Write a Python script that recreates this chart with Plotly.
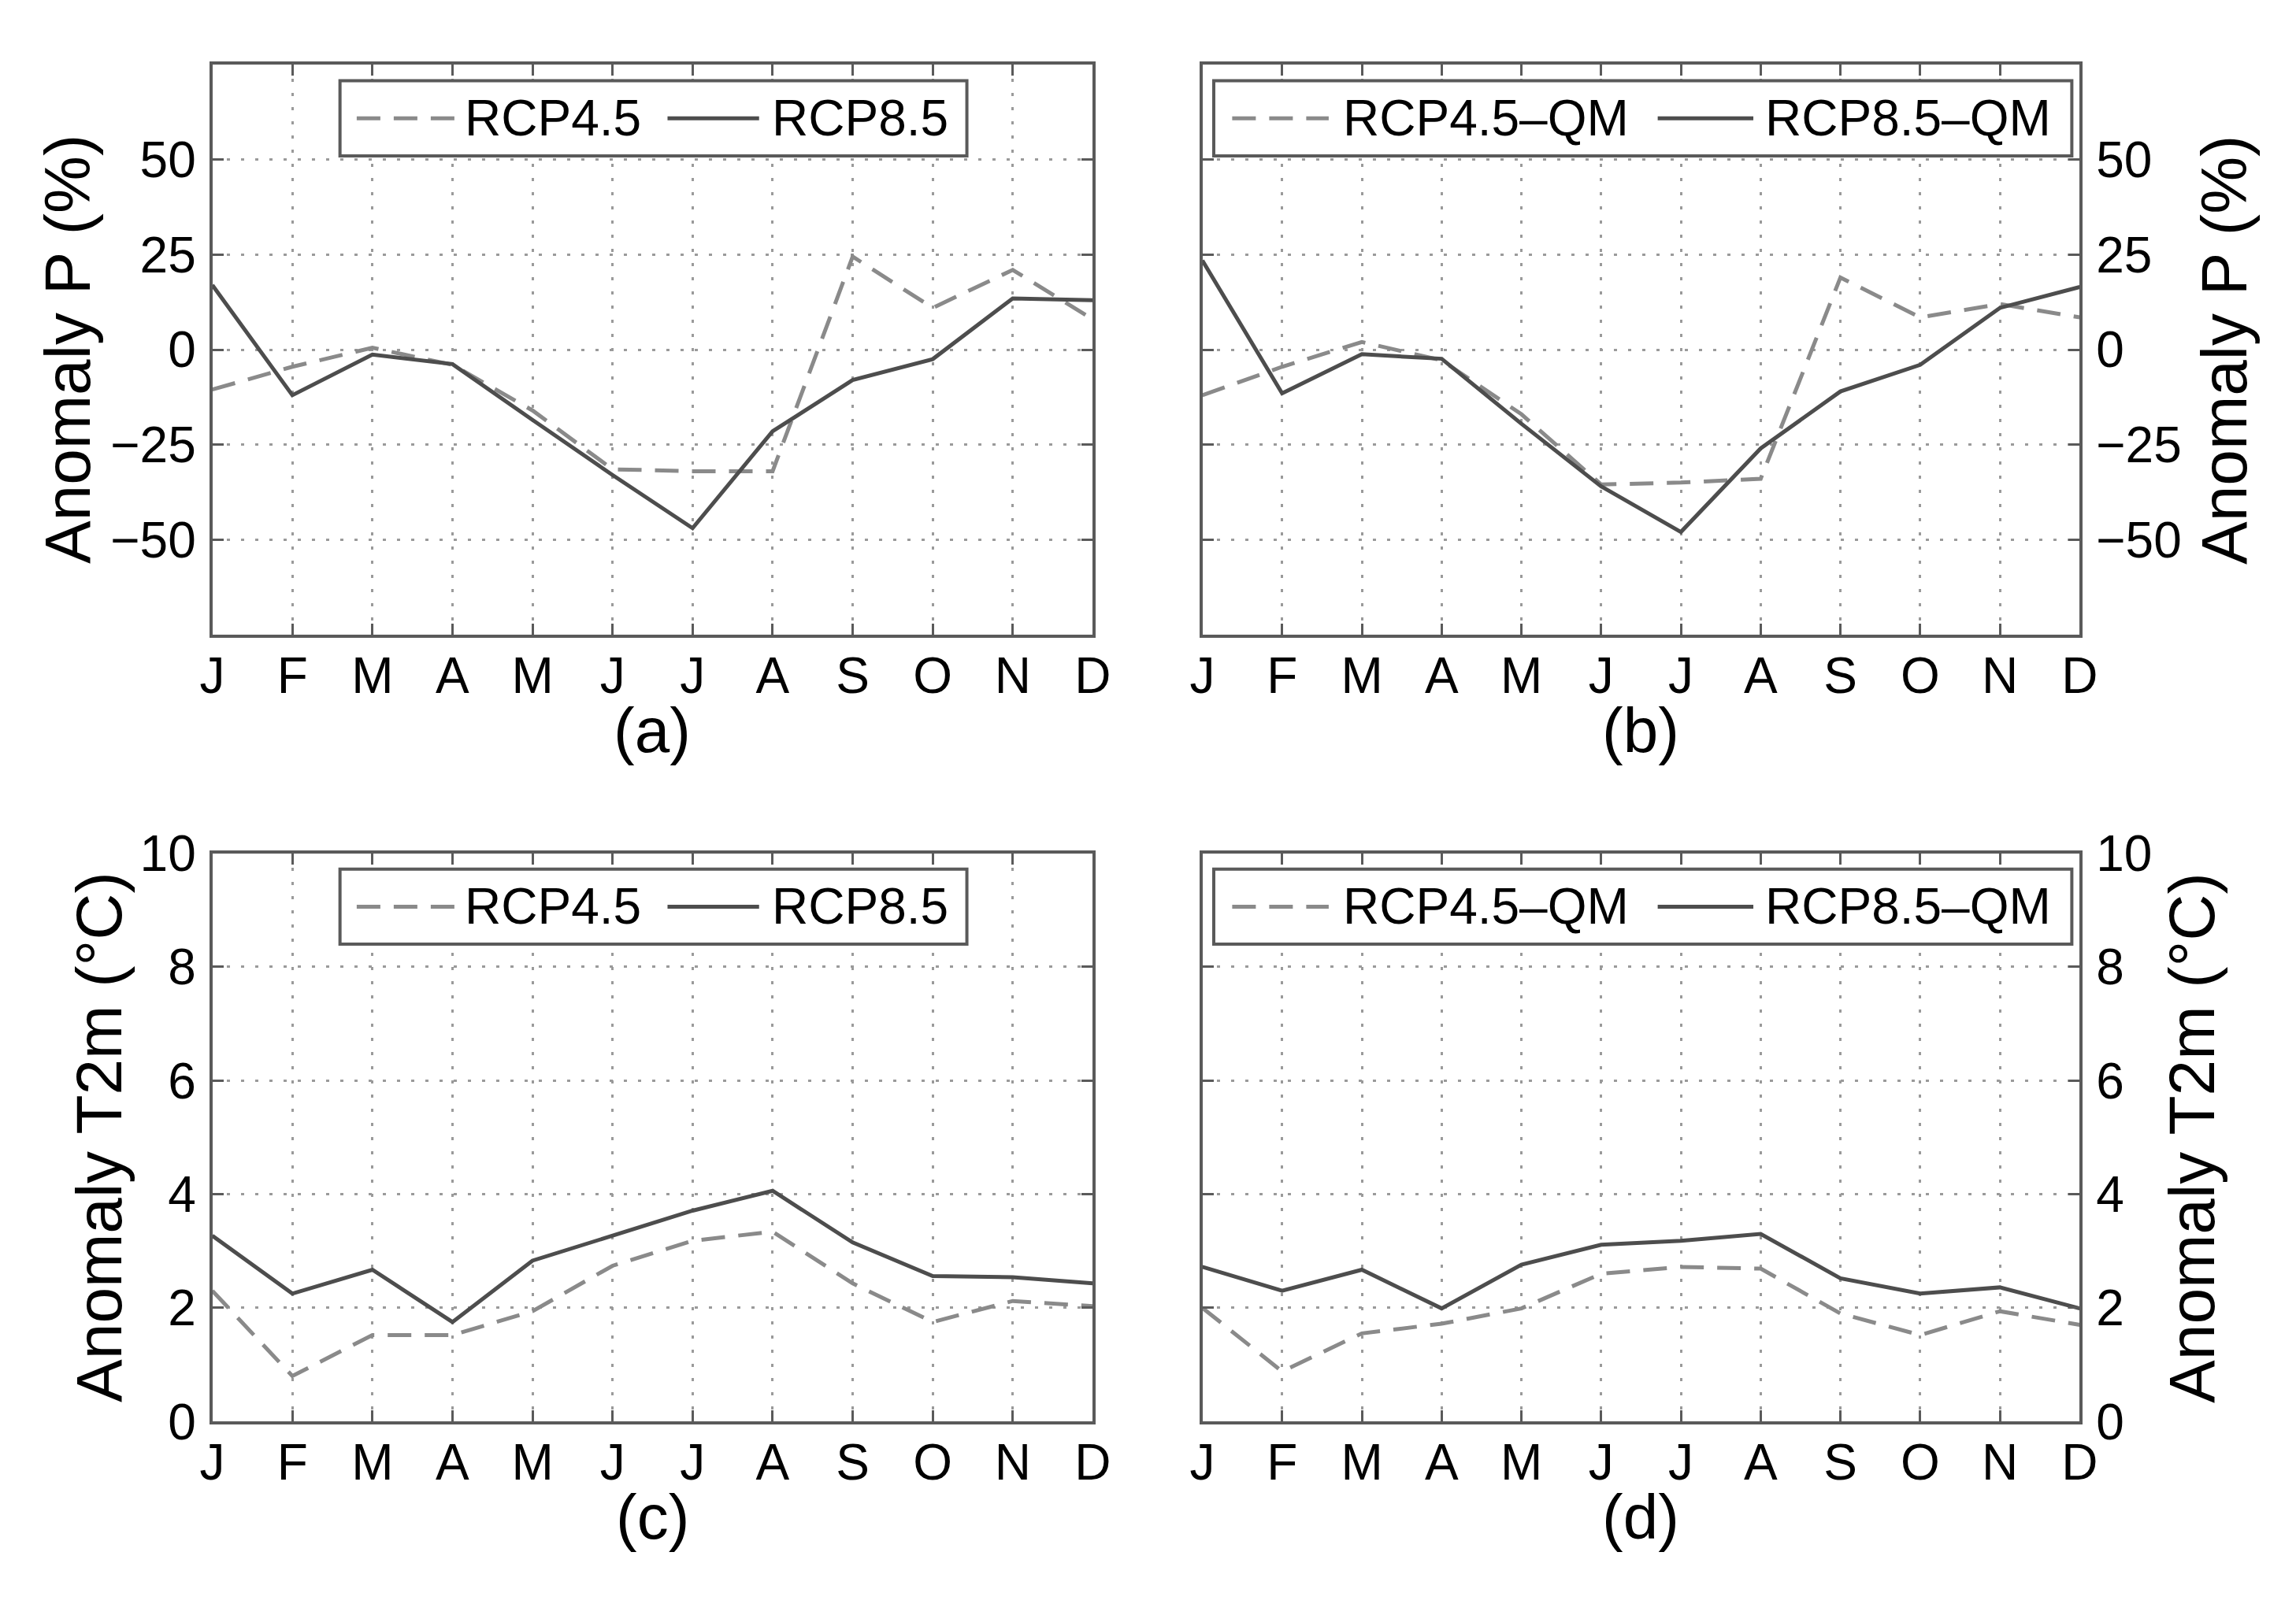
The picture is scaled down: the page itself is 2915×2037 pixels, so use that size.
import plotly.graph_objects as go

months = ["J", "F", "M", "A", "M", "J", "J", "A", "S", "O", "N", "D"]
month_pos = list(range(1, 13))

# (a) precipitation anomaly (%)
a_rcp45 = [-10.5, -4.5, 0.5, -4.0, -16.0, -31.5, -32.0, -32.0, 24.5, 11.0, 21.0, 8.0]
a_rcp85 = [17.0, -12.0, -1.3, -3.8, -18.5, -33.0, -47.0, -21.5, -8.0, -2.5, 13.5, 13.0]
# (b) precipitation anomaly, QM corrected (%)
b_rcp45 = [-12.0, -4.5, 2.0, -2.8, -17.0, -35.5, -35.0, -34.0, 19.0, 8.5, 12.0, 8.5]
b_rcp85 = [23.5, -11.5, -1.2, -2.4, -19.5, -36.0, -48.0, -26.0, -11.0, -4.0, 11.0, 16.5]
# (c) T2m anomaly (°C)
c_rcp45 = [2.3, 0.8, 1.52, 1.52, 1.94, 2.74, 3.18, 3.34, 2.43, 1.75, 2.12, 2.03]
c_rcp85 = [3.27, 2.25, 2.67, 1.75, 2.83, 3.27, 3.71, 4.06, 3.15, 2.56, 2.54, 2.43]
# (d) T2m anomaly, QM corrected (°C)
d_rcp45 = [2.0, 0.88, 1.55, 1.72, 1.99, 2.6, 2.72, 2.69, 1.9, 1.52, 1.94, 1.7]
d_rcp85 = [2.72, 2.3, 2.67, 1.99, 2.76, 3.11, 3.18, 3.3, 2.52, 2.25, 2.36, 1.99]

p_ticks = [-50, -25, 0, 25, 50]
t_ticks = [0, 2, 4, 6, 8, 10]

W, H = 2915, 2037
FONT = "Liberation Sans, Arial, sans-serif"
DASHED_COL = "#8a8a8a"
SOLID_COL = "#4d4d4d"
FRAME_COL = "#5a5a5a"
DASH = "30px,17px"

def px(v, total):
    return v / total

xdom_left = [px(257, W), px(1390, W)]
xdom_right = [px(1531, W), px(2660, W)]
ydom_top = [1 - px(798, H), 1 - px(48, H)]
ydom_bot = [1 - px(1834, H), 1 - px(1086, H)]

panels = [
    dict(xa="x", ya="y", d45=a_rcp45, d85=a_rcp85, n45="RCP4.5", n85="RCP8.5",
         xdom=xdom_left, ydom=ydom_top, side="left", rng=[-75, 75], ticks=p_ticks, label="(a)", bottom=798),
    dict(xa="x2", ya="y2", d45=b_rcp45, d85=b_rcp85, n45="RCP4.5–QM", n85="RCP8.5–QM",
         xdom=xdom_right, ydom=ydom_top, side="right", rng=[-75, 75], ticks=p_ticks, label="(b)", bottom=798),
    dict(xa="x3", ya="y3", d45=c_rcp45, d85=c_rcp85, n45="RCP4.5", n85="RCP8.5",
         xdom=xdom_left, ydom=ydom_bot, side="left", rng=[0, 10], ticks=t_ticks, label="(c)", bottom=1834),
    dict(xa="x4", ya="y4", d45=d_rcp45, d85=d_rcp85, n45="RCP4.5–QM", n85="RCP8.5–QM",
         xdom=xdom_right, ydom=ydom_bot, side="right", rng=[0, 10], ticks=t_ticks, label="(d)", bottom=1834),
]

fig = go.Figure()
shapes = []
annotations = []
layout = {}

for i, p in enumerate(panels):
    fig.add_trace(go.Scatter(x=month_pos, y=p["d45"], mode="lines", name=p["n45"],
                             xaxis=p["xa"], yaxis=p["ya"], showlegend=False,
                             line=dict(color=DASHED_COL, width=5, dash=DASH)))
    fig.add_trace(go.Scatter(x=month_pos, y=p["d85"], mode="lines", name=p["n85"],
                             xaxis=p["xa"], yaxis=p["ya"], showlegend=False,
                             line=dict(color=SOLID_COL, width=5)))
    suffix = "" if i == 0 else str(i + 1)
    common = dict(showline=True, mirror="all", linecolor=FRAME_COL, linewidth=4,
                  ticks="inside", ticklen=14, tickwidth=3, tickcolor=FRAME_COL,
                  showgrid=True, gridcolor="#9a9a9a", gridwidth=3, griddash="4px,14px",
                  zeroline=False, tickfont=dict(family=FONT, size=64, color="black"))
    layout["xaxis" + suffix] = dict(common, domain=p["xdom"], anchor=p["ya"], range=[1, 12],
                                   tickvals=month_pos, ticktext=months, ticklabelstandoff=-7)
    layout["yaxis" + suffix] = dict(common, domain=p["ydom"], anchor=p["xa"], range=p["rng"],
                                   tickvals=p["ticks"], side=p["side"], ticklabelstandoff=4)

    # in-axes legend box (drawn in axis-domain coordinates)
    xr = p["xa"] + " domain"
    yr = p["ya"] + " domain"
    if p["side"] == "left":
        bx0, bx1 = 0.145, 0.857
        l1, t1, l2, t2 = (0.164, 0.275), 0.285, (0.517, 0.621), 0.634
    else:
        bx0, bx1 = 0.013, 0.991
        l1, t1, l2, t2 = (0.034, 0.144), 0.158, (0.519, 0.628), 0.640
    by0, by1 = 0.84, 0.972
    yc = (by0 + by1) / 2
    shapes.append(dict(type="rect", xref=xr, yref=yr, x0=bx0, x1=bx1, y0=by0, y1=by1,
                       fillcolor="white", line=dict(color=FRAME_COL, width=4), layer="above"))
    shapes.append(dict(type="line", xref=xr, yref=yr, x0=l1[0], x1=l1[1], y0=yc, y1=yc,
                       line=dict(color=DASHED_COL, width=5, dash=DASH), layer="above"))
    shapes.append(dict(type="line", xref=xr, yref=yr, x0=l2[0], x1=l2[1], y0=yc, y1=yc,
                       line=dict(color=SOLID_COL, width=5), layer="above"))
    annotations.append(dict(xref=xr, yref=yr, x=t1, y=yc, text=p["n45"], showarrow=False,
                            xanchor="left", yanchor="middle",
                            font=dict(family=FONT, size=64, color="black")))
    annotations.append(dict(xref=xr, yref=yr, x=t2, y=yc, text=p["n85"], showarrow=False,
                            xanchor="left", yanchor="middle",
                            font=dict(family=FONT, size=64, color="black")))
    # panel label
    annotations.append(dict(xref=xr, yref="paper", x=0.5, y=1 - (p["bottom"] + 126) / H,
                            text=p["label"], showarrow=False, xanchor="center", yanchor="middle",
                            font=dict(family=FONT, size=80, color="black")))

# axis titles
titles = [
    ("Anomaly P (%)", 70, 423),
    ("Anomaly P (%)", 2845, 423),
    ("Anomaly T2m (°C)", 111, 1460),
    ("Anomaly T2m (°C)", 2804, 1460),
]
for txt, cx, cy in titles:
    annotations.append(dict(xref="paper", yref="paper", x=cx / W, y=1 - cy / H, text=txt,
                            showarrow=False, textangle=-90, xanchor="center", yanchor="middle",
                            font=dict(family=FONT, size=82, color="black")))

fig.update_layout(width=W, height=H, margin=dict(l=0, r=0, t=0, b=0),
                  paper_bgcolor="white", plot_bgcolor="white",
                  shapes=shapes, annotations=annotations, **layout)

fig.write_html("out.html", config={"displayModeBar": False},
               post_script="document.body.style.margin='0';")
